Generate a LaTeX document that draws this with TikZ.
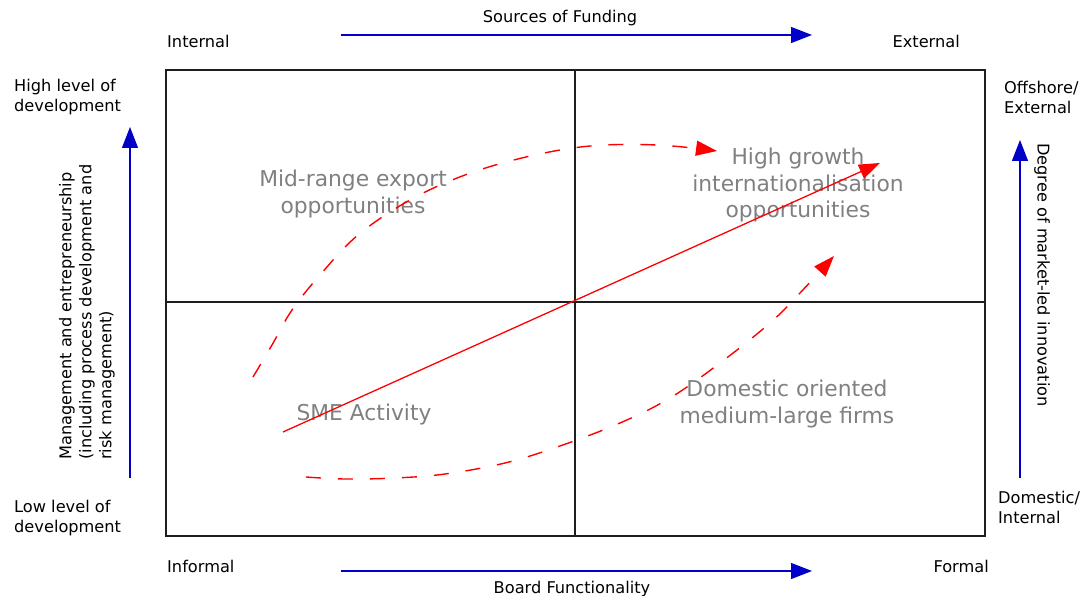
\documentclass[tikz,border=0pt]{standalone}
\usepackage{fontspec}
\setmainfont{DejaVu Sans}
\usetikzlibrary{arrows.meta}
\definecolor{axisblue}{RGB}{0,0,200}
\definecolor{labelgray}{RGB}{128,128,128}
\definecolor{flowred}{RGB}{255,0,0}
\definecolor{frame}{RGB}{30,30,30}
\begin{document}
\begin{tikzpicture}[x=1pt,y=-1pt,
  axislabel/.style={inner sep=0pt, font=\fontsize{16.2}{20}\selectfont, align=left},
  quadlabel/.style={inner sep=0pt, text=labelgray, font=\fontsize{21.8}{26.5}\selectfont, align=center},
  axisarrow/.style={draw=axisblue, line width=1.3pt, -{Triangle[length=21pt,width=16pt]}, fill=axisblue},
  flowline/.style={draw=flowred, line width=1.3pt, -{Triangle[length=21pt,width=15pt]}},
  flowdash/.style={flowline, line width=1.4pt, dash pattern=on 15pt off 17pt},
  gridline/.style={draw=frame, line width=1.4pt}]
\useasboundingbox (0,0) rectangle (1085,596);

% quadrant frame
\draw[gridline] (166,70) rectangle (985,536);
\draw[gridline] (575,70) -- (575,536);
\draw[gridline] (166,302) -- (985,302);

% top axis: sources of funding
\node[axislabel] (sources) at (560,18) {Sources of Funding};
\node[axislabel, anchor=west] (internal) at (167,41) {Internal};
\node[axislabel, anchor=east] (external) at (960,41) {External};
\coordinate (topstart) at (341,35);
\coordinate (topend) at (812,35);
\draw[axisarrow] (topstart) -- (topend);

% bottom axis: board functionality
\node[axislabel, anchor=west] (informal) at (167,566) {Informal};
\node[axislabel, anchor=east] (formal) at (989,566) {Formal};
\node[axislabel] (board) at (572,589) {Board Functionality};
\coordinate (botstart) at (341,571);
\coordinate (botend) at (812,571);
\draw[axisarrow] (botstart) -- (botend);

% left axis: management and entrepreneurship
\node[axislabel, anchor=west] (highdev) at (14,97) {High level of\\development};
\node[axislabel, anchor=west] (lowdev) at (14,518) {Low level of\\development};
\node[axislabel, anchor=west, rotate=90] (mgmt) at (87,460)
  {Management and entrepreneurship\\(including process development and\\risk management)};
\coordinate (leftstart) at (130,478);
\coordinate (leftend) at (130,127);
\draw[axisarrow] (leftstart) -- (leftend);

% right axis: market-led innovation
\node[axislabel, anchor=west] (offshore) at (1004,97) {Offshore/\\External};
\node[axislabel, anchor=west] (domestic) at (998,507) {Domestic/\\Internal};
\node[axislabel, anchor=west, rotate=-90] (innov) at (1042,143) {Degree of market-led innovation};
\coordinate (rightstart) at (1020,478);
\coordinate (rightend) at (1020,140);
\draw[axisarrow] (rightstart) -- (rightend);

% quadrant labels
\node[quadlabel] (midrange) at (353,194) {Mid-range export\\opportunities};
\node[quadlabel] (highgrowth) at (798,185) {High growth\\internationalisation\\opportunities};
\node[quadlabel] (sme) at (364,414) {SME Activity};
\node[quadlabel] (domfirms) at (787,404) {Domestic oriented\\medium-large firms};

% growth paths
\coordinate (smestart) at (283,432);
\coordinate (hgend) at (880,163);
\draw[flowline] (smestart) -- (hgend);

\coordinate (upstart) at (253,377);
\coordinate (upend) at (717,151);
\draw[flowdash] plot[smooth, tension=0.6] coordinates {(upstart) (272,345) (292,310) (320,275) (358,235)
  (410,200) (465,175) (526,157) (590,146) (657,145) (upend)};

\coordinate (lowstart) at (306,477);
\coordinate (lowend) at (834,256);
\draw[flowdash] plot[smooth, tension=0.6] coordinates {(lowstart) (345,479) (395,478) (445,474) (505,463)
  (560,446) (620,423) (670,398) (720,363) (770,323) (800,293) (lowend)};
\end{tikzpicture}
\end{document}
